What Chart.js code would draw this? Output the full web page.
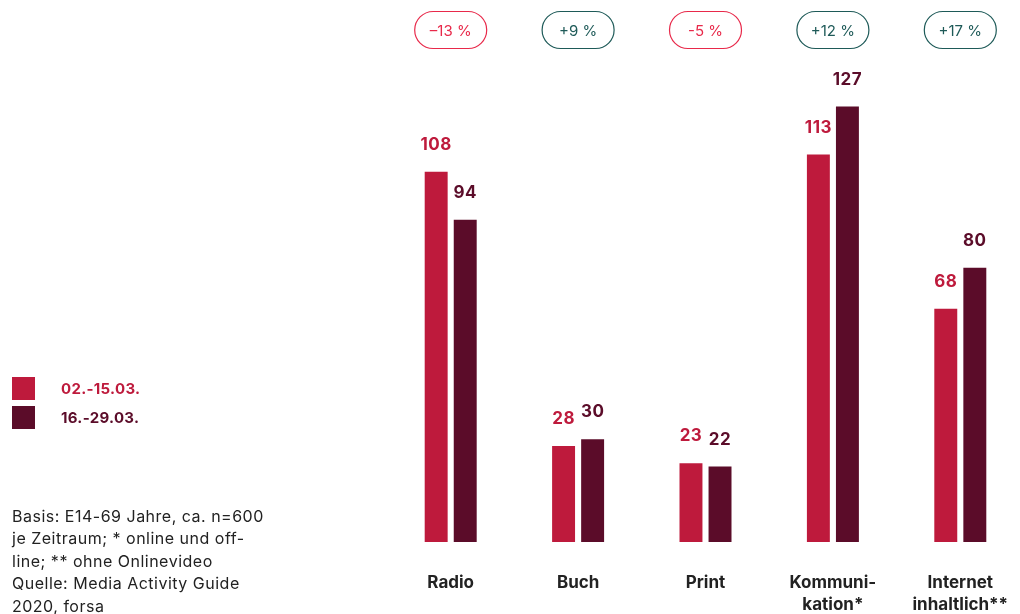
<!DOCTYPE html>
<html lang="de">
<head>
<meta charset="utf-8">
<title>Mediennutzung</title>
<script src="https://cdn.jsdelivr.net/npm/chart.js@4/dist/chart.umd.min.js"></script>
<style>
  html, body { margin: 0; padding: 0; background: #fff; overflow: hidden; }
  body { width: 1020px; height: 614px; position: relative; font-family: Inter, 'Open Sans', sans-serif; }
  #wrap { position: absolute; left: 0; top: 0; width: 1030px; height: 614px; }
  .legend { position: absolute; left: 12px; top: 377px; }
  .legend-item { display: flex; align-items: center; height: 23px; margin-bottom: 6px; font-weight: 700; font-size: 15px; letter-spacing: 0.3px; }
  .legend-item span.box { width: 23px; height: 23px; margin-right: 26px; }
  .note { position: absolute; left: 12px; top: 505px; font-size: 16px; letter-spacing: 0.5px; line-height: 22.4px; color: #222; width: 300px; }
</style>
</head>
<body>
<div id="wrap"><canvas id="chart"></canvas></div>
<div class="legend" id="legend"></div>
<div class="note">Basis: E14-69 Jahre, ca. n=600<br>je Zeitraum; * online und off-<br>line; ** ohne Onlinevideo<br>Quelle: Media Activity Guide<br>2020, forsa</div>

<script>
// Kategorien und Werte der beiden Zeiträume
const categories = ['Radio', 'Buch', 'Print', ['Kommuni-', 'kation*'], ['Internet', 'inhaltlich**']];
const periods = ['02.-15.03.', '16.-29.03.'];
const firstPeriod = [108, 28, 23, 113, 68];
const secondPeriod = [94, 30, 22, 127, 80];
const changes = ['–13 %', '+9 %', '-5 %', '+12 %', '+17 %'];

const colors = ['#be1a3c', '#5b0c29'];
const negColor = '#e8294a';
const posColor = '#1e5a58';

// Legende links
const legend = document.getElementById('legend');
periods.forEach((p, i) => {
  const item = document.createElement('div');
  item.className = 'legend-item';
  item.style.color = colors[i];
  item.innerHTML = `<span class="box" style="background:${colors[i]}"></span>${p}`;
  legend.appendChild(item);
});

// Werte über den Balken
const valueLabels = {
  id: 'valueLabels',
  afterDatasetsDraw(chart) {
    const ctx = chart.ctx;
    ctx.save();
    ctx.font = '700 17px Inter, sans-serif';
    ctx.letterSpacing = '0.5px';
    ctx.textAlign = 'center';
    ctx.textBaseline = 'middle';
    chart.data.datasets.forEach((ds, di) => {
      const meta = chart.getDatasetMeta(di);
      ctx.fillStyle = colors[di];
      meta.data.forEach((bar, i) => {
        ctx.fillText(ds.data[i], bar.x, bar.y - 27);
      });
    });
    ctx.restore();
  }
};

// Veränderungs-Pillen oben
const changePills = {
  id: 'changePills',
  afterDraw(chart) {
    const ctx = chart.ctx;
    const xScale = chart.scales.x;
    const w = 72, h = 37, cy = 30;
    ctx.save();
    ctx.font = '400 15px Inter, sans-serif';
    ctx.textAlign = 'center';
    ctx.textBaseline = 'middle';
    ctx.lineWidth = 1.2;
    changes.forEach((txt, i) => {
      const cx = xScale.getPixelForValue(i);
      const col = secondPeriod[i] < firstPeriod[i] ? negColor : posColor;
      ctx.strokeStyle = col;
      ctx.beginPath();
      ctx.roundRect(cx - w / 2, cy - h / 2, w, h, h / 2);
      ctx.stroke();
      ctx.fillStyle = col;
      ctx.fillText(txt, cx, cy + 1);
    });
    ctx.restore();
  }
};

new Chart(document.getElementById('chart'), {
  type: 'bar',
  data: {
    labels: categories,
    datasets: [
      { label: periods[0], data: firstPeriod, backgroundColor: colors[0] },
      { label: periods[1], data: secondPeriod, backgroundColor: colors[1] }
    ]
  },
  options: {
    responsive: true,
    maintainAspectRatio: false,
    animation: false,
    datasets: {
      bar: { categoryPercentage: 0.456, barPercentage: 0.79 }
    },
    layout: {
      padding: { left: 387, right: 6, top: 62, bottom: 0 }
    },
    scales: {
      x: {
        grid: { display: false, drawTicks: false },
        border: { display: false },
        ticks: {
          color: '#222',
          font: { family: 'Inter, sans-serif', size: 17, weight: '700', lineHeight: 1.3 },
          padding: 30,
          maxRotation: 0
        },
        afterFit(scale) {
          // feste Achsenhöhe, keine zusätzliche Randeinrückung für die Beschriftungen
          scale.height = 72;
          scale.paddingLeft = 0;
          scale.paddingRight = 0;
        }
      },
      y: {
        display: false,
        min: 0,
        max: 140
      }
    },
    plugins: {
      legend: { display: false },
      tooltip: { enabled: false }
    }
  },
  plugins: [valueLabels, changePills]
});
</script>
</body>
</html>
